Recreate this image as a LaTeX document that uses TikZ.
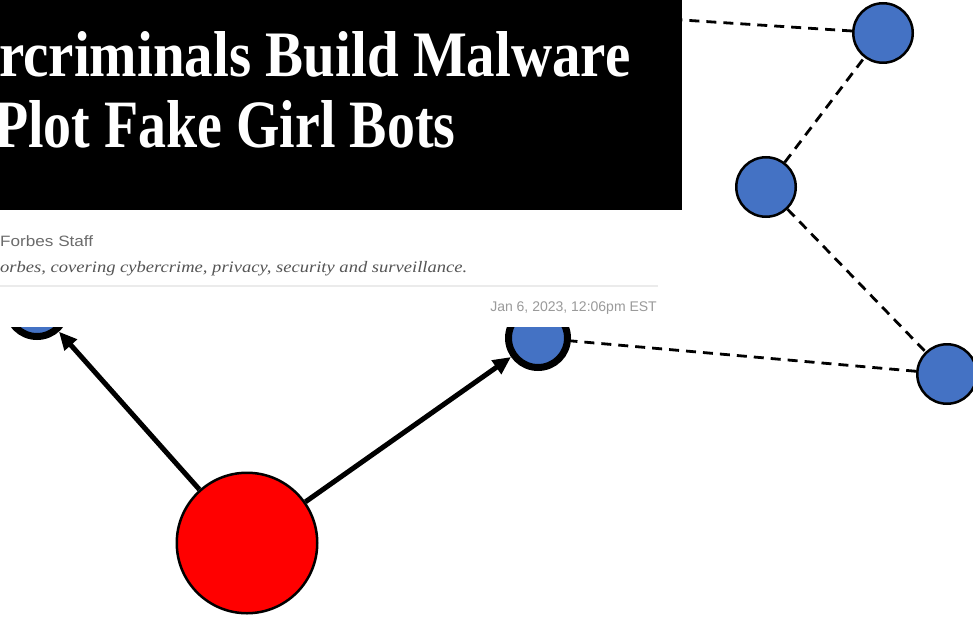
\documentclass[tikz,border=0pt]{standalone}
\usepackage{fontspec}
\usepackage{graphicx}
\usetikzlibrary{arrows.meta}
\newfontfamily\bylinefont{Liberation Sans}
\newfontfamily\blurbfont{Liberation Serif}
\newfontfamily\headfont{Liberation Serif}
\definecolor{nodeblue}{HTML}{4472C4}
\definecolor{bylinegray}{HTML}{6B6B6B}
\definecolor{blurbgray}{HTML}{555555}
\definecolor{dategray}{HTML}{9A9A9A}
\definecolor{rulegray}{HTML}{EBEBEB}
\tikzset{
  bluenode/.style={circle, draw=black, line width=2.5pt, fill=nodeblue, minimum size=59.5pt, inner sep=0pt},
  heavynode/.style={circle, draw=black, line width=7pt, fill=nodeblue, minimum size=59pt, inner sep=0pt},
  sourcenode/.style={circle, draw=black, line width=2.5pt, fill=red, minimum size=140.5pt, inner sep=0pt},
  dashlink/.style={draw=black, line width=2.8pt, dash pattern=on 10pt off 7pt},
  pointer/.style={draw=black, line width=5pt, -{Triangle[length=18pt,width=16pt]}},
  textline/.style={inner sep=0pt, anchor=base west}
}
\begin{document}
\begin{tikzpicture}[x=1pt, y=-1pt]
\useasboundingbox (0,0) rectangle (973,620);
\clip (0,0) rectangle (973,620);

% graph nodes
\node[heavynode] (left) at (37,307) {};
\node[heavynode] (right) at (538,338) {};
\node[bluenode] (top) at (883,33) {};
\node[bluenode] (mid) at (766,187) {};
\node[bluenode] (low) at (947,374) {};
\node[sourcenode] (src) at (247,543) {};
\coordinate (edge) at (682,20);

% dashed links
\draw[dashlink] (top) -- (edge);
\draw[dashlink] (mid) -- (top);
\draw[dashlink] (mid) -- (low);
\draw[dashlink] (low) -- (right);

% arrows from the source
\draw[pointer] (src) -- (left);
\draw[pointer] (src) -- (right);

% article header panel
\fill[white] (0,210) rectangle (682,327);
\fill[black] (0,0) rectangle (682,210);
\node[textline, text=white] (head1) at (-1,77)
  {\resizebox{631pt}{45pt}{\headfont\bfseries rcriminals Build Malware}};
\node[textline, text=white] (head2) at (-6,148)
  {\resizebox{461pt}{47pt}{\headfont\bfseries Plot Fake Girl Bots}};

\node[textline, text=bylinegray] (byline) at (0,246)
  {\resizebox{93pt}{\height}{\bylinefont\fontsize{15pt}{18pt}\selectfont Forbes Staff}};
\node[textline, text=blurbgray] (blurb) at (0,272)
  {\resizebox{467pt}{\height}{\blurbfont\itshape\fontsize{16pt}{19pt}\selectfont orbes, covering cybercrime, privacy, security and surveillance.}};
\fill[rulegray] (0,285) rectangle (658,287);
\node[inner sep=0pt, anchor=base east, text=dategray] (date) at (657,311)
  {\bylinefont\fontsize{14pt}{17pt}\selectfont Jan 6, 2023, 12:06pm EST};
\end{tikzpicture}
\end{document}
